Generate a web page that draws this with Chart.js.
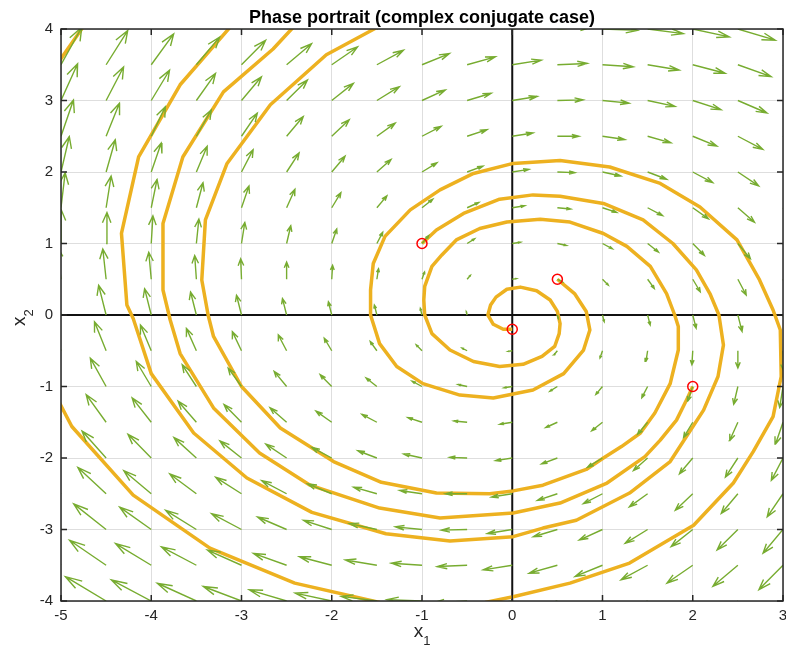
<!DOCTYPE html>
<html>
<head>
<meta charset="utf-8">
<title>Phase portrait</title>
<script src="https://cdn.jsdelivr.net/npm/chart.js@4.4.1/dist/chart.umd.min.js"></script>
<style>
  html, body { margin: 0; padding: 0; background: #ffffff; }
</style>
</head>
<body>
<canvas id="phaseChart" width="786" height="648"></canvas>
<script>
// linear system x' = A x
var sysA = [[0.2, 1.0], [-1.0, 0.2]];
var arrowScale = 0.092;   // quiver autoscale
var headAlpha = 0.33;
var headBeta = 0.33;

// quiver grid
var gridX = [-5, -4.5, -4, -3.5, -3, -2.5, -2, -1.5, -1, -0.5, 0, 0.5, 1, 1.5, 2, 2.5, 3];
var gridY = [-4, -3.5, -3, -2.5, -2, -1.5, -1, -0.5, 0, 0.5, 1, 1.5, 2, 2.5, 3, 3.5, 4];

var xTicks = [-5, -4, -3, -2, -1, 0, 1, 2, 3];
var yTicks = [-4, -3, -2, -1, 0, 1, 2, 3, 4];

// initial conditions (red circles)
var startPoints = [[-1, 1], [0.5, 0.5], [2, -1], [0, -0.2]];

// trajectories (null = leaves the box)
var pathFromA = [[-1, 1], [-0.84, 1.19], [-0.54, 1.42], [-0.14, 1.62], [0.23, 1.68], [0.53, 1.66],
  [1.01, 1.56], [1.45, 1.33], [1.78, 1.0], [2.04, 0.63], [2.19, 0.30], [2.29, 0.0], [2.34, -0.42],
  [2.28, -0.86], [2.12, -1.33], [1.93, -1.70], [1.75, -2.05], [1.30, -2.49], [0.71, -2.87],
  [0.34, -2.98], [0.01, -3.10], [-0.69, -3.16], [-1.40, -3.06], [-2.22, -2.76], [-2.94, -2.28],
  [-3.53, -1.65], [-4.0, -0.82], [-4.20, -0.05], [-4.27, 0.14], [-4.33, 1.14], [-4.14, 2.21],
  [-3.68, 3.22], [-3.13, 4.02]];

var pathFromB = [[0.5, 0.5], [0.69, 0.30], [0.82, 0.05], [0.86, -0.21], [0.79, -0.49], [0.57, -0.82],
  [0.23, -1.05], [-0.21, -1.16], [-0.58, -1.12], [-0.99, -0.96], [-1.28, -0.72], [-1.47, -0.40],
  [-1.57, 0.0], [-1.57, 0.35], [-1.54, 0.72], [-1.41, 1.10], [-1.13, 1.47], [-0.80, 1.75],
  [-0.43, 1.98], [0.01, 2.12], [0.53, 2.16], [1.08, 2.07], [1.64, 1.84], [2.08, 1.51], [2.49, 1.05],
  [2.74, 0.49], [2.89, 0.07], [2.97, -0.21], [2.98, -0.86], [2.89, -1.42], [2.67, -1.91],
  [2.45, -2.35], [2.01, -2.94], [1.30, -3.47], [0.64, -3.75], [0.01, -3.94], [-0.30, -4.02], null,
  [-1.47, -4.02], [-2.41, -3.75], [-3.35, -3.26], [-4.20, -2.52], [-4.88, -1.56], [-5.02, -1.22], null,
  [-5.02, 3.55], [-4.76, 4.02]];

var pathFromC = [[2, -1], [1.95, -1.14], [1.82, -1.47], [1.64, -1.75], [1.47, -1.98], [1.05, -2.35],
  [0.53, -2.63], [0.01, -2.77], [-0.80, -2.84], [-1.47, -2.70], [-2.24, -2.38], [-2.80, -1.93],
  [-3.31, -1.30], [-3.68, -0.54], [-3.79, -0.07], [-3.87, 0.35], [-3.87, 1.28], [-3.65, 2.21],
  [-3.20, 3.12], [-2.65, 3.72], [-2.43, 4.02]];

var pathFromD = [[0, -0.2], [-0.10, -0.20], [-0.21, -0.13], [-0.27, 0.0], [-0.24, 0.14], [-0.18, 0.25],
  [-0.06, 0.36], [0.09, 0.39], [0.27, 0.34], [0.42, 0.21], [0.50, 0.05], [0.53, -0.12], [0.52, -0.26],
  [0.47, -0.44], [0.33, -0.58], [0.12, -0.69], [-0.14, -0.72], [-0.43, -0.65], [-0.69, -0.49],
  [-0.89, -0.26], [-0.97, 0.0], [-0.98, 0.21], [-0.97, 0.40], [-0.89, 0.68], [-0.78, 0.84],
  [-0.62, 1.05], [-0.36, 1.21], [-0.06, 1.30], [0.31, 1.34], [0.64, 1.30], [1.01, 1.14], [1.27, 0.96],
  [1.53, 0.68], [1.71, 0.30], [1.80, 0.0], [1.84, -0.16], [1.84, -0.49], [1.75, -0.96], [1.58, -1.37],
  [1.42, -1.65], [1.21, -1.84], [1.01, -2.0], [0.82, -2.16], [0.34, -2.38], [0.01, -2.46],
  [-0.25, -2.50], [-0.84, -2.49], [-1.45, -2.34], [-1.98, -2.05], [-2.57, -1.58], [-3.0, -1.0],
  [-3.31, -0.30], [-3.37, 0.0], [-3.44, 0.49], [-3.40, 1.33], [-3.16, 2.12], [-2.68, 2.94],
  [-2.06, 3.64], [-1.50, 4.02]];

var trajColor = '#EDB120';
var arrowColor = '#77AC30';
var axisColor = '#262626';

function toXY(list) {
    return list.map(function(p) {
        return p ? {x: p[0], y: p[1]} : {x: null, y: null};
    });
}

// quiver: shaft + two head strokes per grid point, split by gaps
function buildQuiver() {
    var pts = [];
    gridX.forEach(function(gx) {
        gridY.forEach(function(gy) {
            var u = arrowScale * (sysA[0][0] * gx + sysA[0][1] * gy);
            var v = arrowScale * (sysA[1][0] * gx + sysA[1][1] * gy);
            if (u === 0 && v === 0) return;
            var tx = gx + u, ty = gy + v;
            pts.push({x: gx, y: gy}, {x: tx, y: ty}, {x: null, y: null});
            pts.push({x: tx - headAlpha * (u + headBeta * v), y: ty - headAlpha * (v - headBeta * u)},
                     {x: tx, y: ty},
                     {x: tx - headAlpha * (u - headBeta * v), y: ty - headAlpha * (v + headBeta * u)},
                     {x: null, y: null});
        });
    });
    return pts;
}

function pathDataset(list) {
    return {
        data: toXY(list),
        showLine: true,
        borderColor: trajColor,
        borderWidth: 3.5,
        borderJoinStyle: 'round',
        pointRadius: 0,
        clip: 0,
        order: 2
    };
}

// box, inward ticks, title and axis labels
var framePlugin = {
    id: 'framePlugin',
    afterDatasetsDraw: function(chart) {
        var ctx = chart.ctx, a = chart.chartArea;
        var xs = chart.scales.x, ys = chart.scales.y;
        ctx.save();
        ctx.strokeStyle = axisColor;
        ctx.lineWidth = 1.5;
        ctx.strokeRect(a.left, a.top, a.right - a.left, a.bottom - a.top);
        ctx.beginPath();
        xTicks.forEach(function(t) {
            var px = xs.getPixelForValue(t);
            ctx.moveTo(px, a.bottom); ctx.lineTo(px, a.bottom - 6);
            ctx.moveTo(px, a.top); ctx.lineTo(px, a.top + 6);
        });
        yTicks.forEach(function(t) {
            var py = ys.getPixelForValue(t);
            ctx.moveTo(a.left, py); ctx.lineTo(a.left + 6, py);
            ctx.moveTo(a.right, py); ctx.lineTo(a.right - 6, py);
        });
        ctx.stroke();
        ctx.restore();
    },
    afterDraw: function(chart) {
        var ctx = chart.ctx, a = chart.chartArea;
        var cx = (a.left + a.right) / 2;
        ctx.save();
        ctx.fillStyle = '#000000';
        ctx.font = 'bold 18px "Liberation Sans", Arial, sans-serif';
        ctx.textAlign = 'center';
        ctx.textBaseline = 'alphabetic';
        ctx.fillText('Phase portrait (complex conjugate case)', cx, 23);

        ctx.fillStyle = axisColor;
        ctx.textAlign = 'left';
        ctx.font = '19px "Liberation Sans", Arial, sans-serif';
        var wx = ctx.measureText('x').width;
        ctx.font = '13px "Liberation Sans", Arial, sans-serif';
        var ws = ctx.measureText('1').width;
        var x0 = cx - (wx + ws) / 2;
        ctx.font = '19px "Liberation Sans", Arial, sans-serif';
        ctx.fillText('x', x0, 637);
        ctx.font = '13px "Liberation Sans", Arial, sans-serif';
        ctx.fillText('1', x0 + wx, 645);

        ctx.translate(25, (a.top + a.bottom) / 2 + 11);
        ctx.rotate(-Math.PI / 2);
        ctx.font = '19px "Liberation Sans", Arial, sans-serif';
        ctx.fillText('x', 0, 0);
        ctx.font = '13px "Liberation Sans", Arial, sans-serif';
        ctx.fillText('2', wx, 8);
        ctx.restore();
    }
};

var ctx = document.getElementById('phaseChart').getContext('2d');
var phaseChart = new Chart(ctx, {
    type: 'scatter',
    data: {
        datasets: [
            {
                data: toXY(startPoints),
                pointRadius: 5,
                pointBorderWidth: 1.5,
                pointBorderColor: '#ff0000',
                pointBackgroundColor: 'rgba(0,0,0,0)',
                order: 0
            },
            {
                data: buildQuiver(),
                showLine: true,
                borderColor: arrowColor,
                borderWidth: 1.4,
                pointRadius: 0,
                clip: 0,
                order: 1
            },
            pathDataset(pathFromA),
            pathDataset(pathFromB),
            pathDataset(pathFromC),
            pathDataset(pathFromD),
            {
                data: toXY([[-5, 0], [3, 0], null, [0, -4], [0, 4]]),
                showLine: true,
                borderColor: '#111111',
                borderWidth: 2,
                pointRadius: 0,
                clip: 0,
                order: 3
            }
        ]
    },
    options: {
        responsive: false,
        animation: false,
        events: [],
        layout: { autoPadding: false, padding: { top: 29, right: 3, left: 0, bottom: 0 } },
        plugins: {
            legend: { display: false },
            tooltip: { enabled: false },
            title: { display: false }
        },
        scales: {
            x: {
                type: 'linear',
                min: -5,
                max: 3,
                afterBuildTicks: function(scale) {
                    scale.ticks = xTicks.map(function(v) { return {value: v}; });
                },
                afterFit: function(scale) {
                    scale.height = 47;
                    scale.paddingLeft = 0;
                    scale.paddingRight = 0;
                },
                ticks: {
                    color: axisColor,
                    padding: 6,
                    font: { family: '"Liberation Sans", Arial, sans-serif', size: 15 }
                },
                grid: { color: '#dedede', lineWidth: 1, drawTicks: false },
                border: { display: false }
            },
            y: {
                type: 'linear',
                min: -4,
                max: 4,
                afterBuildTicks: function(scale) {
                    scale.ticks = yTicks.map(function(v) { return {value: v}; });
                },
                afterFit: function(scale) {
                    scale.width = 61;
                    scale.paddingTop = 0;
                    scale.paddingBottom = 0;
                },
                ticks: {
                    color: axisColor,
                    padding: 8,
                    font: { family: '"Liberation Sans", Arial, sans-serif', size: 15 }
                },
                grid: { color: '#dedede', lineWidth: 1, drawTicks: false },
                border: { display: false }
            }
        }
    },
    plugins: [framePlugin]
});
</script>
</body>
</html>
